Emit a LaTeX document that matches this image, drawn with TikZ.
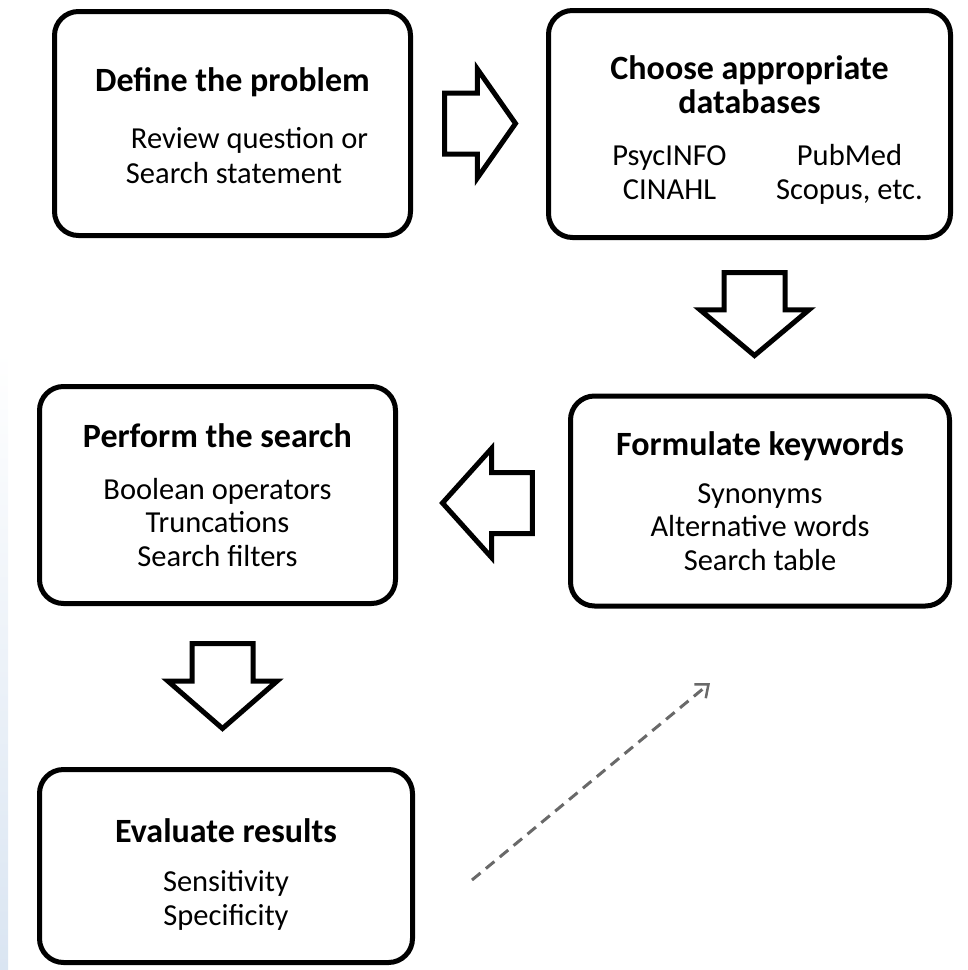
\documentclass[tikz,border=0pt]{standalone}
\usepackage{fontspec}
\setmainfont{Carlito}
\usetikzlibrary{positioning,shapes.arrows,arrows.meta}
\definecolor{stripeblue}{RGB}{218,229,242}
\definecolor{dashgray}{RGB}{105,105,105}

\begin{document}
\begin{tikzpicture}[x=1pt,y=-1pt,
  box/.style={draw,line width=5pt,rounded corners=24pt,align=center,inner sep=0pt,font=\fontsize{30.5}{33.5}\selectfont},
  block arrow/.style={draw,line width=5pt,fill=white,single arrow,inner sep=0pt,single arrow head extend=24pt,miter limit=25},
  harrow/.style={block arrow,inner ysep=28pt},
  varrow/.style={block arrow,inner xsep=28pt,shape border rotate=270}]
  \useasboundingbox (0,0) rectangle (968,970);
  \shade[top color=white,bottom color=stripeblue] (0,350) rectangle (8,970); % blauer Rand links

  \node[box,minimum width=356pt,minimum height=224pt] (define) at (232.5,123.5)
    {\\[5pt]{\fontsize{34}{33.5}\selectfont\bfseries Define the problem}\\[27pt]
     \hspace*{29pt}\begin{tabular}{@{}l@{}}\hspace{5pt}Review question or\\[1.5pt]Search statement\end{tabular}};
  \node[box,minimum width=402pt,minimum height=227pt] (choose) at (749.5,124)
    {\\[2pt]{\fontsize{34}{33.5}\selectfont\bfseries Choose appropriate}\\
     {\fontsize{34}{33.5}\selectfont\bfseries databases}\\[19pt]
     \hspace*{20pt}\makebox[180pt]{PsycINFO}\makebox[180pt]{PubMed}\\
     \hspace*{20pt}\makebox[180pt]{CINAHL}\makebox[180pt]{Scopus, etc.}};
  \node[box,minimum width=379pt,minimum height=210pt] (keywords) at (760,501)
    {{\fontsize{34}{33.5}\selectfont\bfseries Formulate keywords}\\[14pt]
     Synonyms\\Alternative words\\Search table};
  \node[box,minimum width=356pt,minimum height=217pt] (search) at (217.5,495)
    {{\fontsize{34}{33.5}\selectfont\bfseries Perform the search}\\[18pt]
     Boolean operators\\Truncations\\Search filters};
  \node[box,minimum width=373pt,minimum height=193pt] (evaluate) at (226,866)
    {\\[7pt]{\fontsize{34}{33.5}\selectfont\bfseries Evaluate results}\\[16pt]
     Sensitivity\\Specificity};

  % Blockpfeile
  \node[harrow,minimum height=71pt,single arrow tip angle=110] (a1) [right=29pt of define] {};
  \node[varrow,minimum height=83pt,single arrow tip angle=100] (a2) [below=30pt of choose,xshift=5pt] {};
  \node[harrow,minimum height=90pt,single arrow tip angle=96,shape border rotate=180] (a3) [left=33pt of keywords,yshift=-2pt] {};
  \node[varrow,minimum height=85pt,single arrow tip angle=98] (a4) [below=35pt of search,xshift=5pt] {};

  \coordinate (d1) at (472,880);
  \coordinate (d2) at (710,683);
  \path (d1) edge[dashgray,line width=3pt,dash pattern=on 11pt off 7pt,-{Straight Barb[length=11pt,width=18pt,line width=2.5pt]}] (d2);
\end{tikzpicture}
\end{document}
